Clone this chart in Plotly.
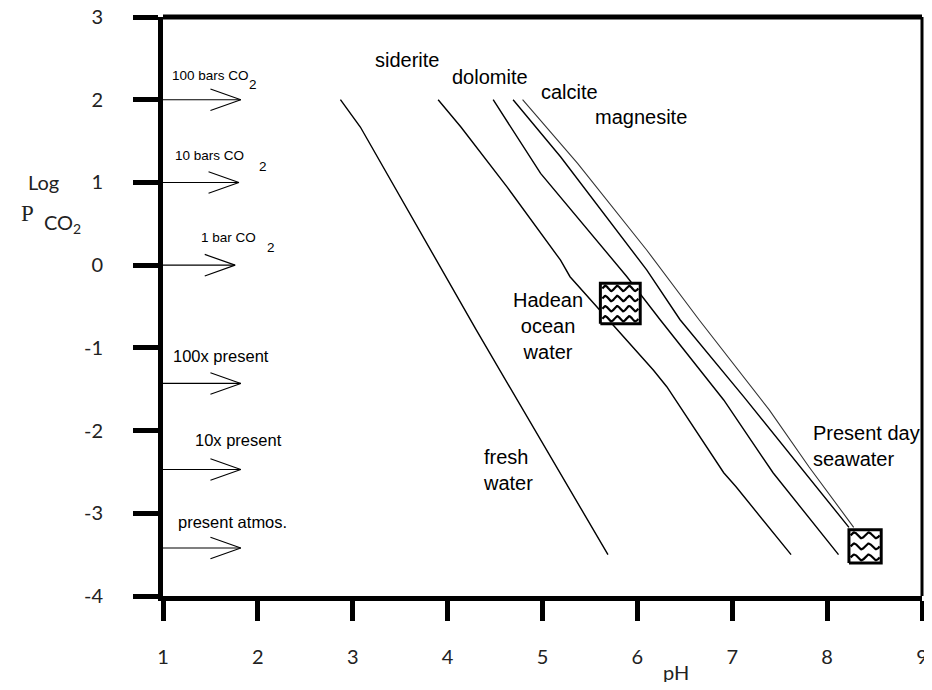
import numpy as np
import plotly.graph_objects as go

# ---------------- data ----------------
ph_ticks = [1, 2, 3, 4, 5, 6, 7, 8, 9]
ph_ticktext = ["1", "2", "3", "4", "5", "6", "7", "8", "9"]
logp_ticks = [-4, -3, -2, -1, 0, 1, 2, 3]
logp_ticktext = ["-4", "-3", "-2", "-1", "0", "1", "2", "3"]

curve1_ph = [2.87, 3.08, 4.30, 5.69]
curve1_logp = [2.0, 1.67, -0.78, -3.5]
curve2_ph = [3.90, 4.14, 4.63, 5.19, 5.29, 5.54, 5.75, 6.17, 6.31, 6.91, 7.04, 7.62]
curve2_logp = [2.0, 1.67, 0.94, 0.06, -0.14, -0.46, -0.72, -1.27, -1.47, -2.51, -2.68, -3.5]
curve3_ph = [4.48, 4.98, 5.89, 6.24, 6.91, 7.43, 8.12]
curve3_logp = [2.0, 1.11, -0.14, -0.66, -1.63, -2.51, -3.5]
curve4_ph = [4.69, 5.19, 6.10, 6.45, 7.12, 8.23]
curve4_logp = [2.0, 1.31, -0.06, -0.66, -1.59, -3.17]
curve5_ph = [4.79, 5.37, 6.10, 6.65, 7.39, 7.81, 8.28]
curve5_logp = [2.0, 1.23, 0.18, -0.66, -1.75, -2.44, -3.17]

mineral_labels = ["siderite", "dolomite", "calcite", "magnesite"]
mineral_label_ph = [3.57, 4.45, 5.28, 6.04]
mineral_label_logp = [2.48, 2.27, 2.09, 1.79]

water_labels = ["Hadean<br>ocean<br>water", "fresh<br>water", "Present day<br>seawater"]
water_label_ph = [5.06, 4.35, 7.83]
water_label_logp = [-0.73, -2.48, -2.19]
water_label_anchor = ["center", "left", "left"]

box_ph_lo = [5.61, 8.23]
box_ph_hi = [6.03, 8.57]
box_logp_lo = [-0.71, -3.60]
box_logp_hi = [-0.22, -3.20]
box_wave_rows = [4, 3]
box_wave_periods = [3, 2]

arrow_logp = [2.0, 1.0, 0.0, -1.43, -2.47, -3.42]
arrow_tip_ph = [1.82, 1.80, 1.76, 1.82, 1.82, 1.82]
co2_text = ["100 bars CO", "10 bars CO", "1 bar CO"]
co2_text_ph = [1.073, 1.105, 1.377]
co2_text_logp = [2.287, 1.33, 0.33]
co2_sub_ph = [1.953, 2.05, 2.14]
co2_sub_logp = [2.18, 1.19, 0.21]
present_text = ["100x present", "10x present", "present atmos."]
present_text_ph = [1.08, 1.314, 1.136]
present_text_logp = [-1.10, -2.11, -3.11]

# ---------------- figure ----------------
fig = go.Figure()

curves = [(curve1_ph, curve1_logp, 1.4, "black"),
          (curve2_ph, curve2_logp, 1.4, "black"),
          (curve3_ph, curve3_logp, 1.4, "black"),
          (curve4_ph, curve4_logp, 1.4, "black"),
          (curve5_ph, curve5_logp, 1.1, "#333333")]
for cx, cy, w, c in curves:
    fig.add_trace(go.Scatter(x=cx, y=cy, mode="lines",
                             line=dict(color=c, width=w), hoverinfo="skip"))

# arrows with open chevron heads
head_dx = 0.32
head_dy = 0.13
ax, ay = [], []
for yv, xt in zip(arrow_logp, arrow_tip_ph):
    ax += [1, xt, None, xt - head_dx, xt, xt - head_dx, None]
    ay += [yv, yv, None, yv + head_dy, yv, yv - head_dy, None]
fig.add_trace(go.Scatter(x=ax, y=ay, mode="lines", line=dict(color="black", width=1.1),
                         hoverinfo="skip", cliponaxis=False))

# boxes with wavy fill (white box drawn over the curves, waves on top)
for x0, x1, y0, y1, rows, per in zip(box_ph_lo, box_ph_hi, box_logp_lo, box_logp_hi,
                                     box_wave_rows, box_wave_periods):
    fig.add_trace(go.Scatter(x=[x0, x1, x1, x0, x0], y=[y0, y0, y1, y1, y0], mode="lines",
                             fill="toself", fillcolor="white",
                             line=dict(color="black", width=3), hoverinfo="skip"))
    wx, wy = [], []
    rh = (y1 - y0) / rows
    t = np.linspace(0, 1, 60)
    for r in range(rows):
        yc = y0 + (r + 0.5) * rh
        xs = x0 + (x1 - x0) * (0.05 + 0.90 * t)
        ys = yc + 0.26 * rh * np.sin(2 * np.pi * per * t)
        wx += list(xs) + [None]
        wy += list(ys) + [None]
    fig.add_trace(go.Scatter(x=wx, y=wy, mode="lines", line=dict(color="black", width=2.2),
                             hoverinfo="skip"))

lab_font = dict(family="Liberation Sans, Arial, sans-serif", size=20, color="black")
arr_font = dict(family="Liberation Sans, Arial, sans-serif", size=16.5, color="black")
co2_font = dict(family="Liberation Sans, Arial, sans-serif", size=13.5, color="black")

for t_, x_, y_ in zip(mineral_labels, mineral_label_ph, mineral_label_logp):
    fig.add_annotation(x=x_, y=y_, text=t_, showarrow=False, font=lab_font,
                       xanchor="center", yanchor="middle")
for t_, x_, y_, a_ in zip(water_labels, water_label_ph, water_label_logp, water_label_anchor):
    fig.add_annotation(x=x_, y=y_, text=t_, showarrow=False, font=lab_font,
                       xanchor=a_, yanchor="middle", align=a_)
for t_, x_, y_ in zip(co2_text, co2_text_ph, co2_text_logp):
    fig.add_annotation(x=x_, y=y_, text=t_, showarrow=False, font=co2_font,
                       xanchor="left", yanchor="middle")
for x_, y_ in zip(co2_sub_ph, co2_sub_logp):
    fig.add_annotation(x=x_, y=y_, text="2", showarrow=False, font=co2_font,
                       xanchor="center", yanchor="middle")
for t_, x_, y_ in zip(present_text, present_text_ph, present_text_logp):
    fig.add_annotation(x=x_, y=y_, text=t_, showarrow=False, font=arr_font,
                       xanchor="left", yanchor="middle")

tick_font = dict(family="Lato, 'DejaVu Sans', sans-serif", size=20, color="#222222")

# axis titles
fig.add_annotation(x=6.41, y=-0.131, xref="x", yref="paper", text="pH", showarrow=False,
                   font=tick_font, xanchor="center", yanchor="middle")
fig.add_annotation(x=-0.158, y=1.0, xref="paper", yref="y", text="Log", showarrow=False,
                   font=tick_font, xanchor="center", yanchor="middle")
fig.add_annotation(x=-0.178, y=0.63, xref="paper", yref="y", text="P", showarrow=False,
                   font=dict(family="Liberation Serif, serif", size=23, color="#222222"),
                   xanchor="center", yanchor="middle")
fig.add_annotation(x=-0.132, y=0.50, xref="paper", yref="y", text="CO<sub>2</sub>",
                   showarrow=False, font=tick_font, xanchor="center", yanchor="middle")

# frame: thick top, thinner right
fig.add_shape(type="line", xref="paper", yref="paper", x0=0, x1=1.0, y0=1, y1=1,
              line=dict(color="black", width=5))
fig.add_shape(type="line", xref="paper", yref="paper", x0=1, x1=1, y0=0, y1=1,
              line=dict(color="black", width=3))

fig.update_layout(
    width=916, height=674,
    margin=dict(l=155, r=2, t=9, b=86, autoexpand=False),
    paper_bgcolor="white", plot_bgcolor="white",
    showlegend=False,
    xaxis=dict(range=[1, 9], tickmode="array", tickvals=ph_ticks, ticktext=ph_ticktext,
               showgrid=False, zeroline=False, showline=True, linecolor="black", linewidth=5,
               ticks="outside", ticklen=20, tickwidth=5, tickcolor="black", automargin=False,
               tickfont=tick_font, ticklabelstandoff=19, ticklabeloverflow="allow"),
    yaxis=dict(range=[-4, 3], tickmode="array", tickvals=logp_ticks, ticktext=logp_ticktext,
               showgrid=False, zeroline=False, showline=True, linecolor="black", linewidth=5,
               ticks="outside", ticklen=25, tickwidth=5, tickcolor="black", automargin=False,
               tickfont=tick_font, ticklabelstandoff=26, ticklabeloverflow="allow"),
)

fig.write_html("out.html")
